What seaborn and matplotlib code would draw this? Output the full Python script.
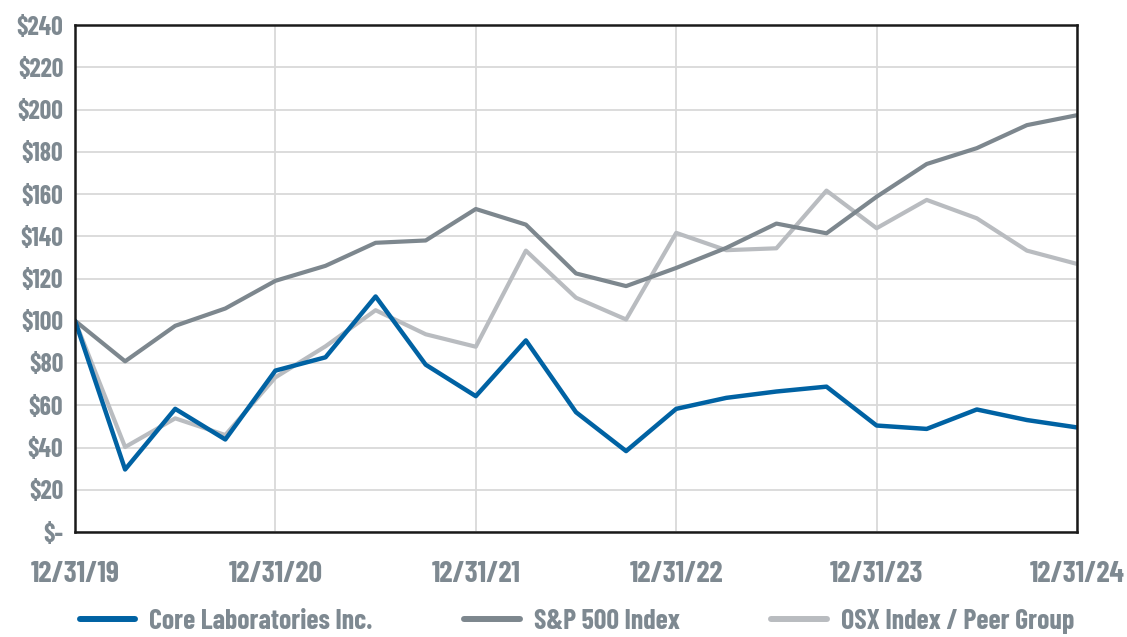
import matplotlib
matplotlib.use("Agg")
import matplotlib.pyplot as plt
from matplotlib.lines import Line2D
import seaborn as sns
import pandas as pd

quarters = list(range(21))
core = [100, 29.6, 58.3, 43.8, 76.4, 82.7, 111.5, 79.2, 64.3, 90.7, 56.7, 38.3,
        58.3, 63.5, 66.5, 68.8, 50.4, 48.8, 58.0, 53.0, 49.5]
sp500 = [100, 80.8, 97.6, 105.8, 118.9, 126.0, 136.9, 138.0, 152.9, 145.5, 122.4, 116.4,
         125.0, 134.5, 146.0, 141.4, 158.7, 174.2, 181.7, 192.6, 197.3]
osx = [100, 40.2, 53.8, 45.9, 73.2, 87.9, 105.0, 93.6, 87.7, 133.2, 110.9, 100.6,
       141.6, 133.4, 134.3, 161.6, 143.8, 157.2, 148.5, 133.2, 126.9]
series_names = ["Core Laboratories Inc.", "S&P 500 Index", "OSX Index / Peer Group"]
year_ticks = [0, 4, 8, 12, 16, 20]
year_labels = ["12/31/19", "12/31/20", "12/31/21", "12/31/22", "12/31/23", "12/31/24"]
y_ticks = list(range(0, 241, 20))

colors = {"Core Laboratories Inc.": "#0062a3",
          "S&P 500 Index": "#7d878e",
          "OSX Index / Peer Group": "#b9bcc0"}

sns.set_theme(style="white")
plt.rcParams["font.family"] = ["Barlow Condensed", "DejaVu Sans"]
text_color = "#7e8991"

fig = plt.figure(figsize=(11.27, 6.37), dpi=100)
ax = fig.add_axes([75/1127, 1 - 532/637, (1077-75)/1127, (532-25)/637])

df = pd.DataFrame({"q": quarters * 3,
                   "value": core + sp500 + osx,
                   "series": [series_names[0]] * 21 + [series_names[1]] * 21 + [series_names[2]] * 21})

for name, lw in [(series_names[2], 3.0), (series_names[1], 3.0), (series_names[0], 3.2)]:
    sub = df[df["series"] == name]
    sns.lineplot(data=sub, x="q", y="value", ax=ax, color=colors[name], linewidth=lw,
                 legend=False)

ax.set_xlim(0, 20)
ax.set_ylim(0, 240)
ax.set_yticks(y_ticks)
ax.set_yticklabels(["$-" if v == 0 else f"${v}" for v in y_ticks])
ax.set_xticks(year_ticks)
ax.set_xticklabels(year_labels)
ax.set_xlabel("")
ax.set_ylabel("")
ax.tick_params(axis="both", length=0, labelcolor=text_color)
ax.tick_params(axis="x", pad=21, labelsize=21.5)
ax.tick_params(axis="y", pad=8.5, labelsize=18.5)
for lab in ax.get_xticklabels() + ax.get_yticklabels():
    lab.set_fontweight("bold")

ax.grid(True, color="#d9d9d9", linewidth=1.3)
ax.set_axisbelow(True)
for sp in ax.spines.values():
    sp.set_color("#1a1a1a")
    sp.set_linewidth(1.8)

leg_handles = [Line2D([0], [0], color=colors[n], linewidth=4.3) for n in series_names]
leg = fig.legend(leg_handles, series_names, loc="center",
                 bbox_to_anchor=(0.512, 0.024), ncol=3, frameon=False,
                 handlelength=2.0, columnspacing=3.3, handletextpad=0.5,
                 prop={"size": 20, "weight": "bold"})
for t in leg.get_texts():
    t.set_color(text_color)

fig.savefig("out.png", dpi=100)
